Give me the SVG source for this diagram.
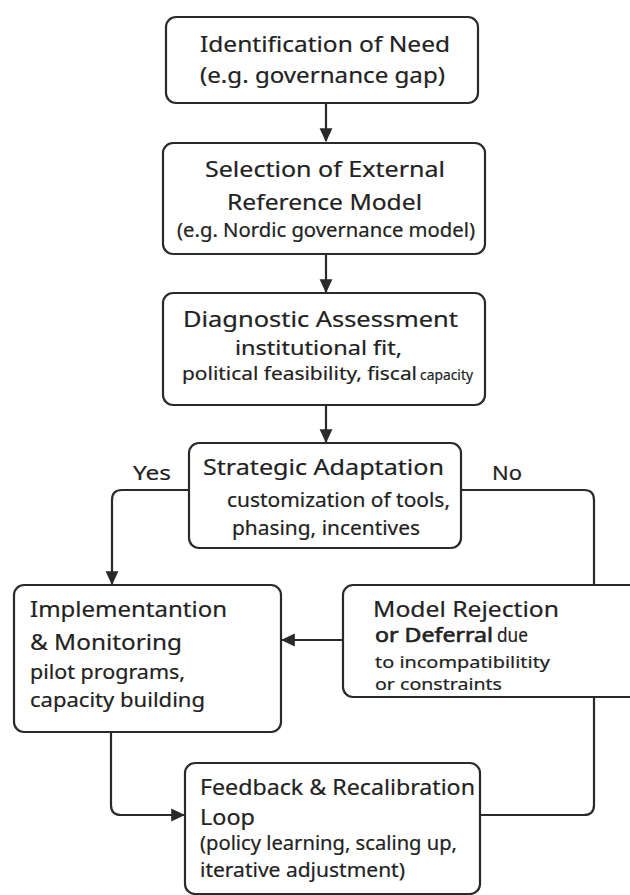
<svg xmlns="http://www.w3.org/2000/svg" width="630" height="895" viewBox="0 0 630 895">
<style>
.box{fill:#fff;stroke:#2a2a2a;stroke-width:2.2}
.c{fill:none;stroke:#2a2a2a;stroke-width:2.2}
text{font-family:"Noto Sans","Open Sans","Liberation Sans",sans-serif;fill:#222;stroke:#222;stroke-width:0.2}
.t{font-size:22px}
.s{font-size:19px}
.md{stroke-width:0.6}
</style>
<defs>
<marker id="ah" markerUnits="userSpaceOnUse" markerWidth="14" markerHeight="14" viewBox="0 0 12 12" refX="11" refY="6" orient="auto">
<path d="M0,0.5 L12,6 L0,11.5 Z" fill="#2a2a2a"/>
</marker>
</defs>
<rect width="630" height="895" fill="#fff"/>
<g id="connectors">
<path class="c" d="M326,103 V141" marker-end="url(#ah)"/>
<path class="c" d="M326,254 V292" marker-end="url(#ah)"/>
<path class="c" d="M326,405 V442" marker-end="url(#ah)"/>
<path class="c" d="M189,490 H122 Q112,490 112,500 V584" marker-end="url(#ah)"/>
<path class="c" d="M461,490 H584 Q594,490 594,500 V805 Q594,815 584,815 H480"/>
<path class="c" d="M343,640 H282" marker-end="url(#ah)"/>
<path class="c" d="M111,732 V805 Q111,815 121,815 H184" marker-end="url(#ah)"/>
<text x="133" y="480" class="s" textLength="38" lengthAdjust="spacingAndGlyphs">Yes</text>
<text x="492" y="480" class="s" textLength="30" lengthAdjust="spacingAndGlyphs">No</text>
</g>
<g id="need">
<rect class="box" x="166" y="17" width="312" height="86" rx="10"/>
<text x="200" y="52" class="t" textLength="250" lengthAdjust="spacingAndGlyphs">Identification of Need</text>
<text x="200" y="83" class="t" textLength="245" lengthAdjust="spacingAndGlyphs">(e.g. governance gap)</text>
</g>
<g id="selection">
<rect class="box" x="163" y="143" width="322" height="111" rx="10"/>
<text x="205" y="177" class="t" textLength="240" lengthAdjust="spacingAndGlyphs">Selection of External</text>
<text x="227" y="210" class="t" textLength="195" lengthAdjust="spacingAndGlyphs">Reference Model</text>
<text x="177" y="237" class="s" textLength="298" lengthAdjust="spacingAndGlyphs">(e.g. Nordic governance model)</text>
</g>
<g id="diagnostic">
<rect class="box" x="163" y="293" width="322" height="112" rx="10"/>
<text x="183" y="327" class="t" textLength="275" lengthAdjust="spacingAndGlyphs">Diagnostic Assessment</text>
<text x="235" y="355" class="s" textLength="167" lengthAdjust="spacingAndGlyphs">institutional fit,</text>
<text x="182" y="380" style="font-size:18px" textLength="235" lengthAdjust="spacingAndGlyphs">political feasibility, fiscal</text>
<text x="420" y="380" style="font-size:14px" textLength="53" lengthAdjust="spacingAndGlyphs">capacity</text>
</g>
<g id="strategic">
<rect class="box" x="189" y="443" width="272" height="105" rx="10"/>
<text x="203" y="475" class="t" textLength="241" lengthAdjust="spacingAndGlyphs">Strategic Adaptation</text>
<text x="227" y="507" class="s" textLength="223" lengthAdjust="spacingAndGlyphs">customization of tools,</text>
<text x="232" y="535" class="s" textLength="188" lengthAdjust="spacingAndGlyphs">phasing, incentives</text>
</g>
<g id="implementation">
<rect class="box" x="14" y="585" width="267" height="147" rx="10"/>
<text x="30" y="617" class="t" textLength="197" lengthAdjust="spacingAndGlyphs">Implementantion</text>
<text x="30" y="650" class="t" textLength="152" lengthAdjust="spacingAndGlyphs">&amp; Monitoring</text>
<text x="30" y="679" class="s" textLength="155" lengthAdjust="spacingAndGlyphs">pilot programs,</text>
<text x="30" y="707" class="s" textLength="175" lengthAdjust="spacingAndGlyphs">capacity building</text>
</g>
<g id="rejection">
<rect class="box" x="343" y="585" width="300" height="112" rx="10"/>
<text x="373" y="617" class="t" textLength="186" lengthAdjust="spacingAndGlyphs">Model Rejection</text>
<text x="375" y="642" class="s md" textLength="118" lengthAdjust="spacingAndGlyphs">or Deferral</text>
<text x="497" y="642" class="s" textLength="31" lengthAdjust="spacingAndGlyphs">due</text>
<text x="375" y="668" style="font-size:17px" textLength="175" lengthAdjust="spacingAndGlyphs">to incompatibilitity</text>
<text x="375" y="690" style="font-size:17px" textLength="127" lengthAdjust="spacingAndGlyphs">or constraints</text>
</g>
<g id="feedback">
<rect class="box" x="185" y="763" width="295" height="131" rx="10"/>
<text x="200" y="795" class="t" textLength="275" lengthAdjust="spacingAndGlyphs">Feedback &amp; Recalibration</text>
<text x="200" y="825" class="t" textLength="55" lengthAdjust="spacingAndGlyphs">Loop</text>
<text x="200" y="850" class="s" textLength="257" lengthAdjust="spacingAndGlyphs">(policy learning, scaling up,</text>
<text x="200" y="877" class="s" textLength="205" lengthAdjust="spacingAndGlyphs">iterative adjustment)</text>
</g>
</svg>
